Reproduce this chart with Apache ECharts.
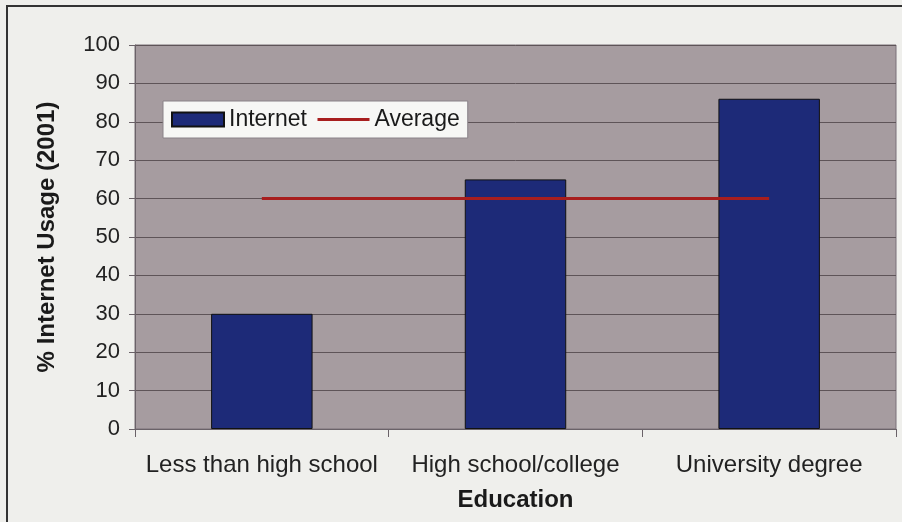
<!DOCTYPE html>
<html>
<head>
<meta charset="utf-8">
<script src="https://cdn.jsdelivr.net/npm/echarts@6/dist/echarts.min.js"></script>
<style>
  html, body { margin: 0; padding: 0; background: #efefec; }
  #chart { width: 902px; height: 522px; }
</style>
</head>
<body>
<div id="chart"></div>
<script>
// Internet usage by education level, 2001
var categories = ['Less than high school', 'High school/college', 'University degree'];
var internetValues = [30, 65, 86];
var averageValues = [60, 60, 60];
var yTicks = { min: 0, max: 100, interval: 10 };

var chart = echarts.init(document.getElementById('chart'));
var font = '"Liberation Sans", Arial, sans-serif';

chart.setOption({
  backgroundColor: '#efefec',
  animation: false,
  graphic: [{
    type: 'rect',
    shape: { x: 7, y: 6, width: 910, height: 530 },
    style: { fill: 'none', stroke: '#333', lineWidth: 2 },
    silent: true
  }],
  grid: {
    left: 135, right: 6, top: 45, bottom: 93,
    show: true,
    backgroundColor: '#a69ca0',
    borderColor: '#7a7078',
    borderWidth: 1
  },
  legend: {
    left: 163, top: 101,
    padding: [7, 8, 7, 8],
    backgroundColor: '#f7f7f5',
    borderColor: '#8a8288',
    borderWidth: 1,
    itemWidth: 52, itemHeight: 14, itemGap: 9,
    textStyle: { fontFamily: font, fontSize: 23, color: '#1a1a1a' },
    data: [
      { name: 'Internet', icon: 'rect' },
      {
        name: 'Average',
        itemStyle: { color: 'rgba(0,0,0,0)', borderWidth: 0 },
        lineStyle: { width: 3 }
      }
    ]
  },
  xAxis: {
    type: 'category',
    data: categories,
    name: 'Education',
    nameLocation: 'middle',
    nameGap: 59,
    nameTextStyle: { fontFamily: font, fontSize: 24, fontWeight: 'bold', color: '#1a1a1a' },
    axisLine: { lineStyle: { color: '#6a6268', width: 1 } },
    axisTick: { show: true, interval: 0, length: 8, lineStyle: { color: '#6a6268' } },
    axisLabel: { interval: 0, fontFamily: font, fontSize: 24, color: '#222', margin: 24 }
  },
  yAxis: {
    type: 'value',
    min: yTicks.min, max: yTicks.max, interval: yTicks.interval,
    name: '% Internet Usage (2001)',
    nameLocation: 'middle',
    nameGap: 76,
    nameTextStyle: { fontFamily: font, fontSize: 24, fontWeight: 'bold', color: '#1a1a1a' },
    axisLine: { show: true, lineStyle: { color: '#6a6268' } },
    axisTick: { show: true, length: 6, lineStyle: { color: '#6a6268' } },
    axisLabel: { fontFamily: font, fontSize: 22, color: '#222', margin: 15 },
    splitLine: { show: true, lineStyle: { color: '#5e5458', width: 1 } }
  },
  series: [
    {
      name: 'Internet',
      type: 'bar',
      data: internetValues,
      barWidth: '40%',
      itemStyle: { color: '#1d2a78', borderColor: '#111', borderWidth: 1 }
    },
    {
      name: 'Average',
      type: 'line',
      data: averageValues,
      symbol: 'none',
      lineStyle: { color: '#a81e1e', width: 3 },
      itemStyle: { color: '#a81e1e' }
    }
  ]
});
</script>
</body>
</html>
